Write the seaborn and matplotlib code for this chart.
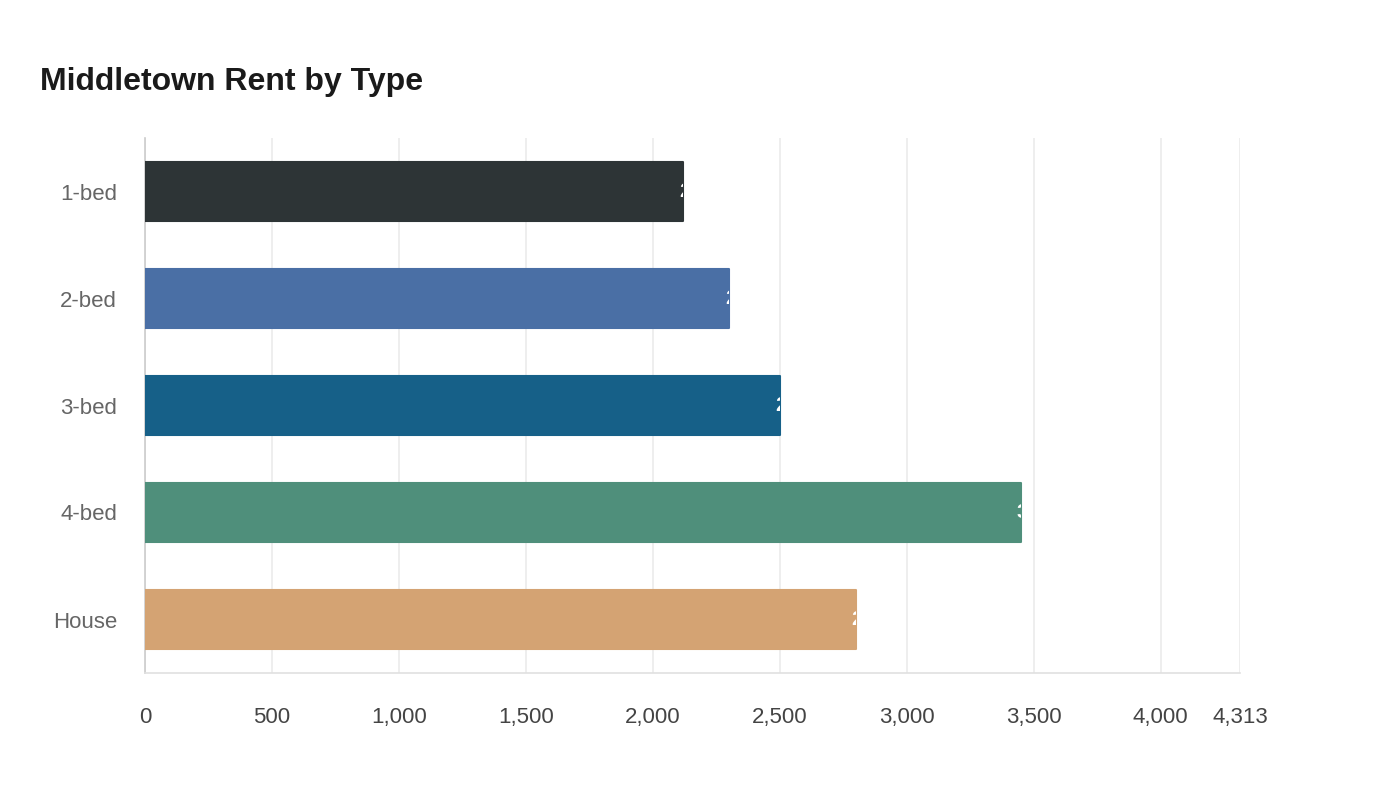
import pandas as pd
import matplotlib.pyplot as plt
import seaborn as sns

# Rent data
types = ["1-bed", "2-bed", "3-bed", "4-bed", "House"]
rents = [2120, 2300, 2500, 3450, 2800]
colors = ["#2d3436", "#4a6fa5", "#166088", "#4f8f7b", "#d4a373"]
x_ticks = [0, 500, 1000, 1500, 2000, 2500, 3000, 3500, 4000, 4313]
x_max = 4313

data = pd.DataFrame({"Type": types, "Rent": rents})

sns.set_theme(style="white")
plt.rcParams["font.family"] = ["Liberation Sans", "DejaVu Sans"]

fig = plt.figure(figsize=(14, 8), dpi=100)
ax = fig.add_axes([145 / 1400, 1 - 673 / 800, 1095 / 1400, 535 / 800])

sns.barplot(data=data, x="Rent", y="Type", hue="Type", palette=colors,
            order=types, width=0.56, saturation=1, legend=False, ax=ax,
            zorder=3)

for bar, val in zip(ax.patches, rents):
    bar.set_edgecolor(bar.get_facecolor())
    bar.set_linewidth(1.5)
    bar.set_joinstyle("round")
    y = bar.get_y() + bar.get_height() / 2
    t = ax.annotate(f"{val:,}", xy=(val, y), xytext=(-3, 0),
                    textcoords="offset points", ha="left", va="center",
                    color="white", fontsize=15, fontweight="bold", zorder=4)
    t.set_clip_path(bar)

ax.set_xlim(0, x_max)
ax.set_ylim(4.5, -0.5)
ax.set_xticks(x_ticks)
ax.set_xticklabels([f"{v:,}" for v in x_ticks])
ax.grid(axis="x", color="#ebebeb", linewidth=1.2, zorder=0)
ax.set_axisbelow(True)
ax.tick_params(axis="x", length=11, width=1.2, color="#e0e0e0",
               labelsize=16, labelcolor="#444444", pad=25)
for lab in ax.get_xticklabels():
    lab.set_verticalalignment("baseline")
ax.tick_params(axis="y", length=0, labelsize=16, labelcolor="#666666",
               pad=20)
ax.set_xlabel("")
ax.set_ylabel("")

for side in ["top", "right"]:
    ax.spines[side].set_visible(False)
ax.spines["left"].set_color("#cccccc")
ax.spines["left"].set_linewidth(1.2)
ax.spines["bottom"].set_color("#e0e0e0")
ax.spines["bottom"].set_linewidth(1.2)

fig.text(40 / 1400, 1 - 82 / 800, "Middletown Rent by Type", fontsize=23,
         fontweight="bold", color="#1a1a1a", ha="left", va="center")

fig.savefig("out.png", dpi=100, facecolor="white")
